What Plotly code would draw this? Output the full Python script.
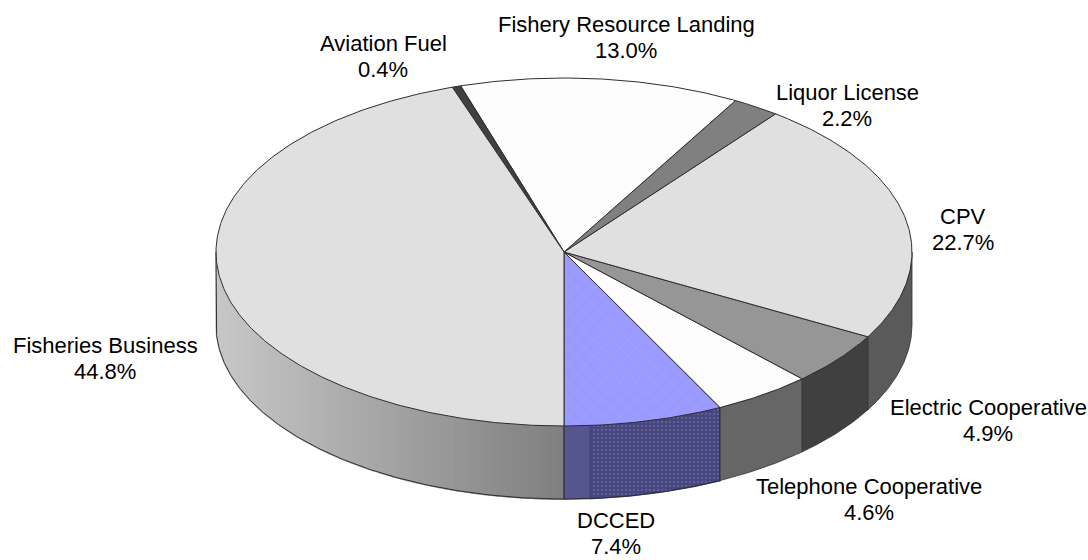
import numpy as np
import plotly.graph_objects as go

# Data
categories = ["DCCED", "Telephone Cooperative", "Electric Cooperative", "CPV",
              "Liquor License", "Fishery Resource Landing", "Aviation Fuel", "Fisheries Business"]
values = [7.4, 4.6, 4.9, 22.7, 2.2, 13.0, 0.4, 44.8]

# Styles
top_colors = ["#9999ff", "#fdfdfd", "#969696", "#e0e0e0", "#808080", "#fdfdfd", "#404040", "#e0e0e0"]
wall_colors = ["#45457f", "#666666", "#404040", "#5a5a5a"]
label_xy = [(616, 520), (869, 486), (988, 407), (963, 216), (847, 92), (626, 24), (383, 43), (105, 345)]

# Geometry of the pie in page pixels
CX, CY, RX, RY, DEPTH = 564, 252, 348, 174, 73
OUTLINE = "#2e2e2e"
LINE_GAP = 26
FONT = dict(family="Liberation Sans, Arial", size=22, color="#000000")


def rim(a0, a1, n=None):
    n = n or max(2, int(abs(a1 - a0) * 2) + 2)
    t = np.radians(np.linspace(a0, a1, n))
    return CX + RX * np.sin(t), CY + RY * np.cos(t)


fig = go.Figure()


def poly(x, y, fill, line=None, width=1.0, pattern=None):
    fig.add_trace(go.Scatter(
        x=list(x), y=list(y), mode="lines", fill="toself", fillcolor=fill,
        fillpattern=pattern,
        line=dict(color=line or fill, width=width if line else 1.6),
        hoverinfo="skip", showlegend=False))


def wall(a0, a1, fill, line=None, pattern=None):
    x, y = rim(a0, a1)
    poly(np.r_[x, x[::-1], x[0]], np.r_[y, y[::-1] + DEPTH, y[0]], fill, line, 0.8, pattern)


def outline(a0, a1):
    x, y = rim(a0, a1)
    fig.add_trace(go.Scatter(x=np.r_[x[0], x, x[-1]], y=np.r_[y[0], y + DEPTH, y[-1]],
                             mode="lines", line=dict(color=OUTLINE, width=1),
                             hoverinfo="skip", showlegend=False))


edges = np.r_[0, np.cumsum(values)] * 3.6
edges[-1] = 360

# side walls: left part as a grey gradient, stepped evenly along x
steps = np.linspace(-1, 0, 121)
for s0, s1 in zip(steps[:-1], steps[1:]):
    a0 = 360 + np.degrees(np.arcsin(s0))
    a1 = 360 + np.degrees(np.arcsin(s1))
    g = int(128 + 72 * -(s0 + s1) / 2)
    wall(a0, a1, f"rgb({g},{g},{g})")
outline(270, 360)

# side walls: right part
for i in range(4):
    a0, a1 = edges[i], min(edges[i + 1], 90)
    if i == 0:
        split = 4.3
        wall(a0, split, "#56568f")
        wall(split, a1, wall_colors[i],
             pattern=dict(shape=".", fgcolor="#7f7fa8", size=4, solidity=0.25, bgcolor=wall_colors[i]))
        outline(a0, a1)
    else:
        wall(a0, a1, wall_colors[i], OUTLINE)

# top sectors
for i, name in enumerate(categories):
    x, y = rim(edges[i], edges[i + 1])
    pattern = dict(shape="x", fgcolor="#a4a4ff", size=12, solidity=0.2, bgcolor=top_colors[i]) if i == 0 else None
    poly(np.r_[CX, x, CX], np.r_[CY, y, CY], top_colors[i], OUTLINE, 1.0, pattern)

# labels
for name, v, (lx, ly) in zip(categories, values, label_xy):
    for text, yy in ((name, ly), (f"{v:.1f}%", ly + LINE_GAP)):
        fig.add_annotation(x=lx, y=yy, text=text, showarrow=False, font=FONT,
                           xanchor="center", yanchor="middle")

fig.update_xaxes(range=[0, 1088], visible=False, fixedrange=True)
fig.update_yaxes(range=[560, 0], visible=False, fixedrange=True)
fig.update_layout(width=1088, height=560, margin=dict(l=0, r=0, t=0, b=0),
                  paper_bgcolor="white", plot_bgcolor="white", showlegend=False)
fig.write_html("out.html", config={"displayModeBar": False},
               post_script="document.body.style.margin='0';document.body.style.overflow='hidden';")
